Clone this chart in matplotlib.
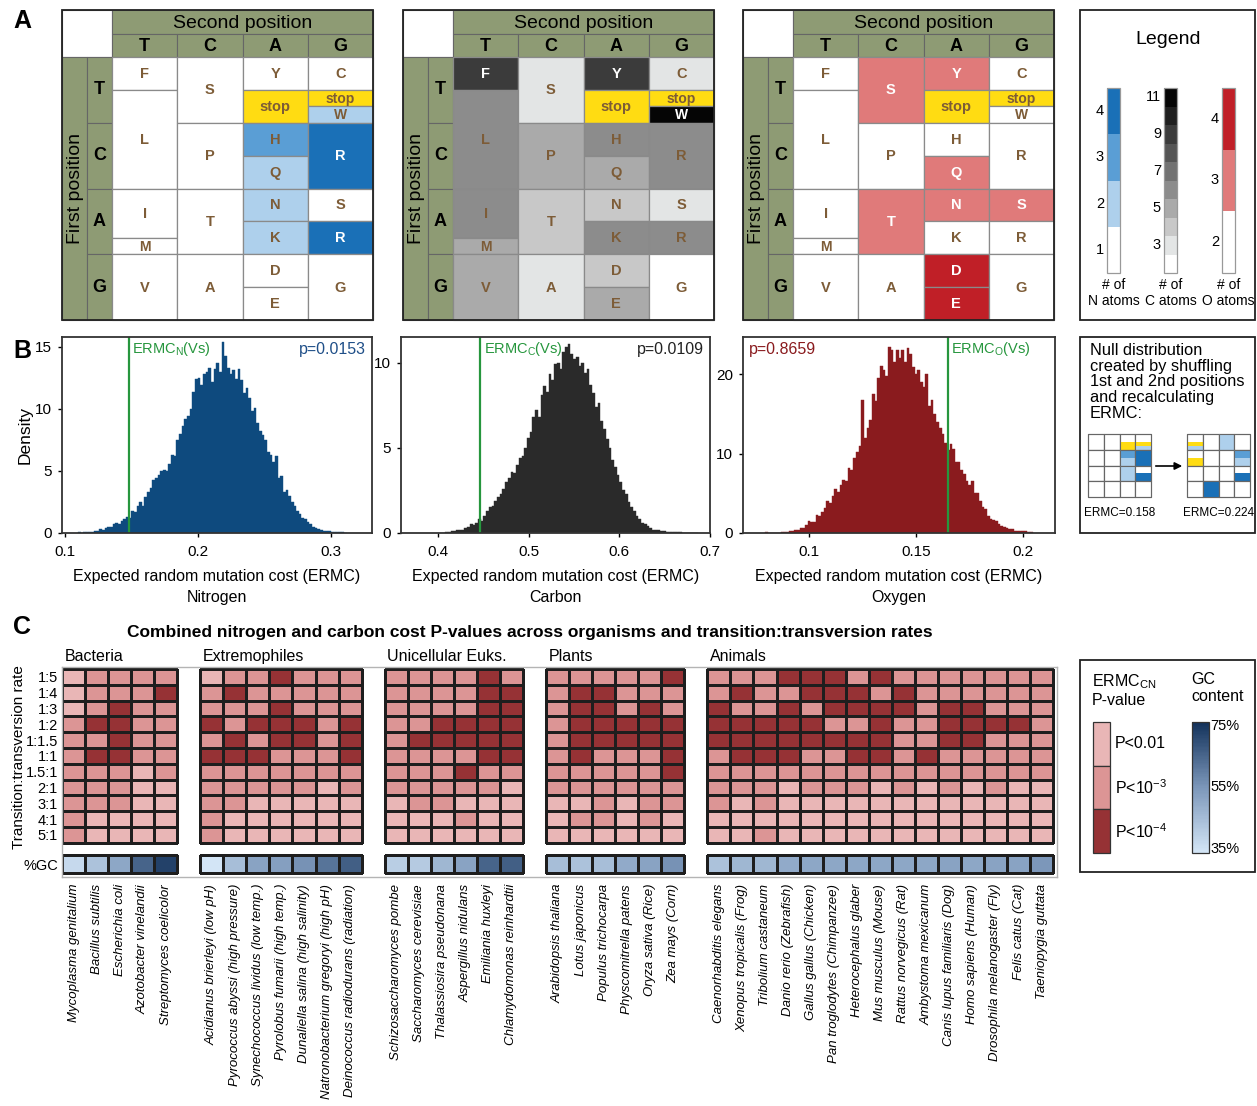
import numpy as np
import matplotlib
matplotlib.use("Agg")
import matplotlib.pyplot as plt
from matplotlib.patches import Rectangle
from matplotlib.colors import ListedColormap, LinearSegmentedColormap

plt.rcParams["font.family"] = ["Liberation Sans", "DejaVu Sans"]
plt.rcParams["mathtext.fontset"] = "custom"
plt.rcParams["mathtext.rm"] = "Liberation Sans"
plt.rcParams["mathtext.it"] = "Liberation Sans:italic"

W, H = 1257, 1106

# ── Genetic code and atom counts ─────────────────────────────────────────────
BASES = "TCAG"
GENETIC_CODE = "FFLLSSSSYY**CC*WLLLLPPPPHHQQRRRRIIIMTTTTNNKKSSRRVVVVAAAADDEEGGGG"
N_ATOMS = dict(A=1, R=4, N=2, D=1, C=1, Q=2, E=1, G=1, H=3, I=1,
               L=1, K=2, M=1, F=1, P=1, S=1, T=1, W=2, Y=1, V=1)
C_ATOMS = dict(A=3, R=6, N=4, D=4, C=3, Q=5, E=5, G=2, H=6, I=6,
               L=6, K=6, M=5, F=9, P=5, S=3, T=4, W=11, Y=9, V=5)
O_ATOMS = dict(A=2, R=2, N=3, D=4, C=2, Q=3, E=4, G=2, H=2, I=2,
               L=2, K=2, M=2, F=2, P=2, S=3, T=3, W=2, Y=3, V=2)

N_PALETTE = {1: "#ffffff", 2: "#aed0ec", 3: "#5a9ed5", 4: "#1a70b7"}
C_PALETTE = {2: "#ffffff", 3: "#e3e5e5", 4: "#c8c8c8", 5: "#aaaaaa", 6: "#8c8c8c",
             7: "#727272", 8: "#555555", 9: "#3b3b3b", 10: "#1f1f1f", 11: "#050505"}
O_PALETTE = {2: "#ffffff", 3: "#e07a7a", 4: "#c01f27"}

# block order (first, second) of the shuffled example code
SHUFFLED_BLOCKS = [["TG", "TC", "AA", "TT"],
                   ["TA", "CC", "CT", "CA"],
                   ["AT", "AC", "GA", "AG"],
                   ["GT", "CG", "GC", "GG"]]
ERMC_EXAMPLE = [0.158, 0.224]

# ── Null distributions (density per bin) ─────────────────────────────────────
N_BIN_START, N_BIN_WIDTH = 0.110, 0.002
N_HEIGHTS = [0.05, 0.0, 0.05, 0.05, 0.1, 0.1, 0.15, 0.2, 0.3, 0.25,
             0.4, 0.5, 0.5, 0.7, 0.8, 0.75, 1.0, 1.1, 1.3, 1.2,
             1.8, 1.7, 2.2, 2.5, 2.2, 2.9, 3.3, 3.6, 4.3, 4.4,
             4.7, 5.0, 5.1, 5.0, 5.6, 6.3, 6.2, 7.5, 8.0, 8.6,
             9.2, 9.4, 10.0, 11.4, 12.4, 12.5, 11.9, 12.8, 13.0, 13.3,
             12.2, 13.2, 13.7, 13.0, 15.4, 14.3, 13.3, 12.8, 13.1, 12.4,
             13.2, 12.3, 11.3, 11.7, 10.9, 9.8, 10.1, 8.9, 8.2, 7.9,
             7.5, 6.5, 6.3, 5.7, 6.2, 4.4, 4.6, 3.3, 3.5, 3.0,
             2.5, 2.2, 1.8, 1.5, 1.2, 1.1, 0.9, 0.7, 0.5, 0.4,
             0.35, 0.25, 0.2, 0.15, 0.15, 0.1, 0.1, 0.1, 0.05, 0.05, 0.02]
N_OBSERVED, N_PVALUE = 0.148, "p=0.0153"

C_BIN_START, C_BIN_WIDTH = 0.402, 0.003
C_HEIGHTS = [0.02, 0.0, 0.05, 0.05, 0.1, 0.1, 0.15, 0.2, 0.15, 0.3,
             0.35, 0.5, 0.45, 0.6, 0.8, 0.7, 1.0, 1.3, 1.5, 1.6,
             1.9, 2.1, 2.3, 2.6, 3.0, 3.2, 3.6, 3.5, 4.0, 4.4,
             4.5, 5.0, 5.6, 5.9, 6.8, 7.2, 6.8, 8.1, 8.6, 8.3,
             9.3, 9.0, 9.9, 10.0, 9.6, 10.6, 10.9, 11.1, 10.5, 10.2,
             10.3, 9.8, 10.0, 9.4, 9.6, 8.7, 8.2, 7.4, 7.6, 6.6,
             6.1, 5.5, 5.0, 4.3, 3.9, 3.4, 3.0, 2.5, 2.3, 1.8,
             1.5, 1.3, 1.0, 0.8, 0.6, 0.5, 0.4, 0.3, 0.2, 0.2,
             0.15, 0.1, 0.1, 0.08, 0.05, 0.05, 0.04, 0.03, 0.03, 0.02,
             0.02, 0.01, 0.01, 0.01, 0.01]
C_OBSERVED, C_PVALUE = 0.446, "p=0.0109"

O_BIN_START, O_BIN_WIDTH = 0.0795, 0.00125
O_HEIGHTS = [0.1, 0.0, 0.0, 0.05, 0.0, 0.05, 0.1, 0.1, 0.15, 0.3,
             0.3, 0.35, 0.4, 0.6, 0.6, 1.0, 1.5, 1.4, 1.4, 2.3,
             2.2, 2.6, 3.2, 4.0, 3.8, 4.6, 5.5, 5.2, 6.0, 6.7,
             6.5, 8.2, 8.0, 9.5, 10.2, 11.0, 16.8, 12.0, 13.2, 14.3,
             17.5, 16.6, 19.5, 21.0, 20.5, 19.8, 23.4, 23.0, 21.6, 23.0,
             22.0, 23.0, 21.5, 23.3, 22.5, 20.9, 20.0, 20.6, 19.0, 18.4,
             20.0, 16.0, 16.8, 15.0, 14.0, 13.2, 12.5, 11.4, 10.5, 11.2,
             10.6, 9.0, 8.9, 8.0, 7.4, 6.6, 6.0, 6.6, 5.0, 5.0,
             4.0, 3.3, 3.0, 2.2, 1.8, 1.7, 1.5, 1.1, 0.9, 0.8,
             0.6, 0.5, 0.5, 0.3, 0.3, 0.2, 0.3, 0.2, 0.1, 0.15]
O_OBSERVED, O_PVALUE = 0.1649, "p=0.8659"

# ── P-value levels (1: P<0.01, 2: P<1e-3, 3: P<1e-4) and GC content ──────────
RATIOS = ["1:5", "1:4", "1:3", "1:2", "1:1.5", "1:1", "1.5:1", "2:1", "3:1", "4:1", "5:1"]
GROUPS = ["Bacteria", "Extremophiles", "Unicellular Euks.", "Plants", "Animals"]

BACTERIA = ["Mycoplasma genitalium", "Bacillus subtilis", "Escherichia coli",
            "Azotobacter vinelandii", "Streptomyces coelicolor"]
BACTERIA_P = [[1, 2, 2, 2, 2], [1, 2, 2, 2, 3], [1, 2, 3, 2, 2], [2, 3, 3, 2, 2],
              [2, 2, 3, 2, 2], [2, 3, 3, 2, 2], [2, 2, 2, 1, 2], [2, 2, 2, 1, 1],
              [2, 2, 2, 1, 1], [2, 1, 1, 1, 1], [2, 1, 1, 1, 1]]
BACTERIA_GC = [38, 44, 51, 65, 72]

EXTREMOPHILES = ["Acidianus brierleyi (low pH)", "Pyrococcus abyssi (high pressure)",
                 "Synechococcus lividus (low temp.)", "Pyrolobus fumarii (high temp.)",
                 "Dunaliella salina (high salinity)", "Natronobacterium gregoryi (high pH)",
                 "Deinococcus radiodurans (radiation)"]
EXTREMOPHILES_P = [[1, 2, 2, 3, 2, 2, 2], [2, 3, 2, 2, 2, 2, 2], [2, 2, 2, 3, 2, 2, 2],
                   [3, 2, 3, 3, 3, 2, 3], [2, 3, 2, 3, 3, 2, 3], [3, 3, 3, 2, 2, 2, 3],
                   [2, 2, 2, 2, 2, 2, 2], [2, 2, 2, 2, 2, 1, 2], [2, 2, 1, 1, 1, 1, 1],
                   [2, 1, 1, 1, 1, 1, 1], [2, 1, 1, 1, 1, 1, 1]]
EXTREMOPHILES_GC = [35, 45, 52, 53, 56, 62, 66]

UNICELLULAR = ["Schizosaccharomyces pombe", "Saccharomyces cerevisiae",
               "Thalassiosira pseudonana", "Aspergillus nidulans",
               "Emiliania huxleyi", "Chlamydomonas reinhardtii"]
UNICELLULAR_P = [[2, 2, 2, 2, 3, 2], [2, 2, 2, 2, 3, 3], [2, 2, 2, 2, 3, 3],
                 [2, 2, 3, 3, 3, 3], [2, 3, 3, 3, 3, 3], [2, 2, 2, 2, 3, 3],
                 [2, 2, 2, 3, 2, 2], [2, 2, 2, 2, 2, 1], [1, 2, 2, 1, 1, 1],
                 [1, 1, 1, 2, 1, 1], [1, 1, 1, 1, 1, 1]]
UNICELLULAR_GC = [41, 42, 47, 52, 65, 66]

PLANTS = ["Arabidopsis thaliana", "Lotus japonicus", "Populus trichocarpa",
          "Physcomitrella patens", "Oryza sativa (Rice)", "Zea mays (Corn)"]
PLANTS_P = [[2, 2, 2, 2, 2, 3], [2, 3, 3, 2, 2, 2], [2, 3, 3, 2, 3, 2],
            [2, 3, 3, 3, 3, 3], [2, 3, 3, 3, 3, 3], [2, 3, 2, 2, 2, 3],
            [2, 2, 2, 2, 2, 3], [2, 2, 2, 2, 2, 2], [1, 1, 2, 1, 2, 2],
            [1, 2, 2, 1, 2, 1], [1, 1, 1, 1, 1, 1]]
PLANTS_GC = [45, 44, 45, 50, 52, 56]

ANIMALS = ["Caenorhabditis elegans", "Xenopus tropicalis (Frog)", "Tribolium castaneum",
           "Danio rerio (Zebrafish)", "Gallus gallus (Chicken)", "Pan troglodytes (Chimpanzee)",
           "Heterocephalus glaber", "Mus musculus (Mouse)", "Rattus norvegicus (Rat)",
           "Ambystoma mexicanum", "Canis lupus familiaris (Dog)", "Homo sapiens (Human)",
           "Drosophila melanogaster (Fly)", "Felis catus (Cat)", "Taeniopygia guttata"]
ANIMALS_P = [[2, 2, 2, 3, 3, 3, 2, 3, 2, 2, 2, 2, 2, 2, 2],
             [2, 3, 2, 2, 3, 3, 3, 2, 3, 2, 2, 2, 2, 2, 2],
             [3, 2, 2, 3, 2, 3, 3, 3, 3, 2, 3, 3, 2, 2, 2],
             [3, 3, 3, 3, 3, 2, 2, 3, 2, 2, 3, 3, 3, 3, 2],
             [3, 3, 3, 3, 3, 3, 3, 3, 2, 2, 3, 3, 2, 2, 2],
             [2, 3, 3, 3, 2, 2, 3, 3, 2, 3, 2, 2, 2, 2, 2],
             [2, 2, 2, 2, 2, 2, 2, 2, 2, 2, 2, 2, 2, 2, 2],
             [2, 2, 2, 1, 2, 2, 2, 1, 2, 1, 2, 1, 2, 1, 1],
             [2, 1, 2, 1, 1, 1, 1, 1, 1, 1, 1, 1, 1, 1, 1],
             [1, 1, 1, 1, 1, 1, 1, 1, 1, 1, 1, 1, 1, 1, 1],
             [1, 1, 2, 1, 1, 1, 1, 1, 1, 1, 1, 1, 1, 1, 1]]
ANIMALS_GC = [44, 47, 47, 50, 51, 51, 51, 51, 51, 51, 52, 51, 52, 52, 55]

# ── Styles ───────────────────────────────────────────────────────────────────
OLIVE = "#8e9b74"
BROWN = "#7d5c37"
STOP_YELLOW = "#ffdc12"
CELL_EDGE = "#8a8a8a"
FRAME = "#222222"
GREEN = "#26963d"
P_COLORS = ["#e9b6b6", "#dc9595", "#963235"]
GC_CMAP = LinearSegmentedColormap.from_list("gc", ["#d3e5f6", "#7c97ba", "#13325b"])

fig = plt.figure(figsize=(W / 100, H / 100), dpi=100)


def px_axes(x0, y0, x1, y1):
    return fig.add_axes([x0 / W, 1 - y1 / H, (x1 - x0) / W, (y1 - y0) / H])


# full-figure canvas in pixel units for tables, legends and labels
bg = px_axes(0, 0, W, H)
bg.set_xlim(0, W)
bg.set_ylim(H, 0)
bg.axis("off")

# ── Panel A: codon tables ────────────────────────────────────────────────────
TABLE_LEFT = [62, 403, 743]
TABLE_TOP = 10
LAB_W = 25
HDR_1, HDR_2 = 24, 23
CELL_W, CELL_H = 65.25, 65.75


def codon_table(x0, counts, palette, white_from):
    y0 = TABLE_TOP
    gx, gy = x0 + 2 * LAB_W, y0 + HDR_1 + HDR_2
    q = CELL_H / 4
    bg.add_patch(Rectangle((x0, y0), 2 * LAB_W, HDR_1 + HDR_2, fc="white", ec="#666", lw=0.8))
    bg.add_patch(Rectangle((gx, y0), 4 * CELL_W, HDR_1, fc=OLIVE, ec="#666", lw=0.8))
    bg.text(gx + 2 * CELL_W, y0 + HDR_1 / 2 + 1, "Second position",
            ha="center", va="center", fontsize=14)
    bg.add_patch(Rectangle((x0, gy), LAB_W, 4 * CELL_H, fc=OLIVE, ec="#666", lw=0.8))
    bg.text(x0 + LAB_W / 2 + 1, gy + 2 * CELL_H, "First position", rotation=90,
            ha="center", va="center", fontsize=14)
    for j, b in enumerate(BASES):
        bg.add_patch(Rectangle((gx + j * CELL_W, y0 + HDR_1), CELL_W, HDR_2,
                               fc=OLIVE, ec="#666", lw=0.8))
        bg.text(gx + (j + 0.5) * CELL_W, y0 + HDR_1 + HDR_2 / 2 + 1, b,
                ha="center", va="center", fontsize=13, fontweight="bold")
        bg.add_patch(Rectangle((x0 + LAB_W, gy + j * CELL_H), LAB_W, CELL_H,
                               fc=OLIVE, ec="#666", lw=0.8))
        bg.text(x0 + 1.5 * LAB_W, gy + (j + 0.5) * CELL_H, b,
                ha="center", va="center", fontsize=13, fontweight="bold")

    for j in range(4):
        column = [GENETIC_CODE[16 * i + 4 * j + k] for i in range(4) for k in range(4)]
        start = 0
        while start < 16:
            end = start
            while end + 1 < 16 and column[end + 1] == column[start]:
                end += 1
            aa = column[start]
            n = end - start + 1
            if aa == "*":
                fc, label, tc = STOP_YELLOW, "stop", BROWN
            else:
                fc, label = palette[counts[aa]], aa
                tc = "white" if counts[aa] >= white_from else BROWN
            bg.add_patch(Rectangle((gx + j * CELL_W, gy + start * q), CELL_W, n * q,
                                   fc=fc, ec=CELL_EDGE, lw=0.9))
            bg.text(gx + (j + 0.5) * CELL_W, gy + (start + n / 2) * q + 0.5, label,
                    ha="center", va="center", color=tc, fontweight="bold",
                    fontsize=10.5 if n > 1 else 10)
            start = end + 1

    bg.add_patch(Rectangle((x0, y0), 2 * LAB_W + 4 * CELL_W, HDR_1 + HDR_2 + 4 * CELL_H,
                           fill=False, ec=FRAME, lw=1.3))


codon_table(TABLE_LEFT[0], N_ATOMS, N_PALETTE, 4)
codon_table(TABLE_LEFT[1], C_ATOMS, C_PALETTE, 9)
codon_table(TABLE_LEFT[2], O_ATOMS, O_PALETTE, 3)

# legend of atom counts
bg.add_patch(Rectangle((1080, 10), 175, 310, fill=False, ec=FRAME, lw=1.3))
bg.text(1168, 40, "Legend", ha="center", va="center", fontsize=14)
BAR_TOP, BAR_BOT = 88, 273
for bx, palette, shown, atom in [(1107, N_PALETTE, [1, 2, 3, 4], "N"),
                                 (1164, C_PALETTE, [3, 5, 7, 9, 11], "C"),
                                 (1222, O_PALETTE, [2, 3, 4], "O")]:
    levels = sorted(palette)
    seg = (BAR_BOT - BAR_TOP) / len(levels)
    for s, lev in enumerate(levels):
        top = BAR_BOT - (s + 1) * seg
        bg.add_patch(Rectangle((bx, top), 13, seg, fc=palette[lev], ec="none"))
        if lev in shown:
            bg.text(bx - 3, top + seg / 2, str(lev), ha="right", va="center", fontsize=10.5)
    bg.add_patch(Rectangle((bx, BAR_TOP), 13, BAR_BOT - BAR_TOP, fill=False, ec="#999", lw=0.9))
    bg.text(bx + 6.5, 293, f"# of\n{atom} atoms", ha="center", va="center",
            fontsize=10, linespacing=1.15)

# ── Panel B: null distributions ──────────────────────────────────────────────


def hist_panel(rect, start, width, heights, color, xlim, ylim, yticks, xticks,
               xticklabels, observed, atom, pvalue, pcolor, p_left, name):
    ax = px_axes(*rect)
    edges = start + width * np.arange(len(heights) + 1)
    ax.bar(edges[:-1], heights, width=width, align="edge", color=color,
           edgecolor=color, linewidth=0.3)
    ax.axvline(observed, color=GREEN, lw=1.6)
    ax.text(observed + 0.012 * (xlim[1] - xlim[0]), ylim[1] * 0.985,
            f"ERMC$_\\mathrm{{{atom}}}$(Vs)", color=GREEN, fontsize=10.5,
            ha="left", va="top")
    if p_left:
        ax.text(0.02, 0.975, pvalue, transform=ax.transAxes, color=pcolor,
                fontsize=11.5, ha="left", va="top")
    else:
        ax.text(0.98, 0.975, pvalue, transform=ax.transAxes, color=pcolor,
                fontsize=11.5, ha="right", va="top")
    ax.set_xlim(*xlim)
    ax.set_ylim(*ylim)
    ax.set_yticks(yticks)
    ax.set_xticks(xticks, labels=xticklabels)
    ax.tick_params(labelsize=11, length=3, width=1, direction="out", pad=4)
    ax.tick_params(axis="x", pad=6)
    for sp in ax.spines.values():
        sp.set_linewidth(1.3)
        sp.set_color("#333")
    ax.set_xlabel(f"Expected random mutation cost (ERMC)\n{name}", fontsize=11.5,
                  linespacing=1.45, labelpad=7)
    return ax


ax_n = hist_panel((62, 337, 372, 533), N_BIN_START, N_BIN_WIDTH, N_HEIGHTS, "#0e4a7e",
                  (0.098, 0.331), (0, 15.8), [0, 5, 10, 15], [0.1, 0.2, 0.3],
                  ["0.1", "0.2", "0.3"], N_OBSERVED, "N", N_PVALUE, "#1f4f88",
                  False, "Nitrogen")
ax_n.set_ylabel("Density", fontsize=12.5, labelpad=2)
hist_panel((401, 337, 710, 533), C_BIN_START, C_BIN_WIDTH, C_HEIGHTS, "#2a2a2a",
           (0.359, 0.70), (0, 11.5), [0, 5, 10], [0.4, 0.5, 0.6, 0.7],
           ["0.4", "0.5", "0.6", "0.7"], C_OBSERVED, "C", C_PVALUE, "#222222",
           False, "Carbon")
hist_panel((743, 337, 1055, 533), O_BIN_START, O_BIN_WIDTH, O_HEIGHTS, "#8a1b1e",
           (0.0693, 0.215), (0, 24.7), [0, 10, 20], [0.1, 0.15, 0.2],
           ["0.1", "0.15", "0.2"], O_OBSERVED, "O", O_PVALUE, "#8a1b1e",
           True, "Oxygen")

# shuffling illustration
bg.add_patch(Rectangle((1080, 337), 175, 196, fill=False, ec=FRAME, lw=1.3))
bg.text(1090, 343, "Null distribution\ncreated by shuffling\n1st and 2nd positions\n"
        "and recalculating\nERMC:", ha="left", va="top", fontsize=11.8, linespacing=1.06)

MINI = 15.75


def mini_code(x0, y0, blocks):
    for r in range(4):
        for c in range(4):
            first, second = BASES.index(blocks[r][c][0]), BASES.index(blocks[r][c][1])
            cx, cy = x0 + c * MINI, y0 + r * MINI
            bg.add_patch(Rectangle((cx, cy), MINI, MINI, fc="white", ec="#777", lw=0.8))
            for k in range(4):
                aa = GENETIC_CODE[16 * first + 4 * second + k]
                fc = STOP_YELLOW if aa == "*" else N_PALETTE[N_ATOMS[aa]]
                if fc != "#ffffff":
                    bg.add_patch(Rectangle((cx, cy + k * MINI / 4), MINI, MINI / 4,
                                           fc=fc, ec="none"))
            bg.add_patch(Rectangle((cx, cy), MINI, MINI, fill=False, ec="#666", lw=0.8))


standard_blocks = [[a + b for b in BASES] for a in BASES]
mini_code(1088, 434, standard_blocks)
mini_code(1187, 434, SHUFFLED_BLOCKS)
bg.annotate("", xy=(1185, 466), xytext=(1153, 466),
            arrowprops=dict(arrowstyle="-|>", color="black", lw=1.2, mutation_scale=11))
bg.text(1120, 513, f"ERMC={ERMC_EXAMPLE[0]:.3f}", ha="center", va="center", fontsize=8.5)
bg.text(1219, 513, f"ERMC={ERMC_EXAMPLE[1]:.3f}", ha="center", va="center", fontsize=8.5)

# ── Panel C: heatmap of P-values ─────────────────────────────────────────────
bg.text(530, 632, "Combined nitrogen and carbon cost P-values across organisms "
        "and transition:transversion rates", ha="center", va="center",
        fontsize=12.5, fontweight="bold")

hm = px_axes(62, 667, 1057, 877)
GC_ROW = (11.77, 12.91)
groups = [(GROUPS[0], BACTERIA, BACTERIA_P, BACTERIA_GC),
          (GROUPS[1], EXTREMOPHILES, EXTREMOPHILES_P, EXTREMOPHILES_GC),
          (GROUPS[2], UNICELLULAR, UNICELLULAR_P, UNICELLULAR_GC),
          (GROUPS[3], PLANTS, PLANTS_P, PLANTS_GC),
          (GROUPS[4], ANIMALS, ANIMALS_P, ANIMALS_GC)]
p_cmap = ListedColormap(P_COLORS)
centers, names = [], []
offset = 0
for gname, species, pvals, gc in groups:
    n = len(species)
    xe = offset + np.arange(n + 1)
    hm.pcolormesh(xe, np.arange(len(RATIOS) + 1), np.array(pvals), cmap=p_cmap,
                  vmin=0.5, vmax=3.5, edgecolors="#1e1e1e", linewidth=0.8)
    hm.pcolormesh(xe, GC_ROW, np.array([gc]), cmap=GC_CMAP, vmin=35, vmax=75,
                  edgecolors="#1e1e1e", linewidth=0.8)
    hm.text(offset + 0.12, -0.35, gname, ha="left", va="bottom", fontsize=11.5)
    centers.extend(offset + 0.5 + np.arange(n))
    names.extend(species)
    offset += n + 1

hm.set_xlim(0, offset - 1 + 0.17)
hm.set_ylim(13.16, -0.13)
hm.set_xticks(centers, labels=names, rotation=90, fontstyle="italic", fontsize=9.5)
hm.set_yticks(list(np.arange(len(RATIOS)) + 0.5) + [sum(GC_ROW) / 2],
              labels=RATIOS + ["%GC"], fontsize=10.5)
hm.tick_params(length=0, pad=3)
hm.tick_params(axis="x", pad=5)
for sp in hm.spines.values():
    sp.set_color("#b4b4b4")
    sp.set_linewidth(1.0)
bg.text(19, 757, "Transition:transversion rate", rotation=90, ha="center",
        va="center", fontsize=11)

# legend for P-value levels and GC content
bg.add_patch(Rectangle((1080, 660), 175, 212, fill=False, ec=FRAME, lw=1.3))
bg.text(1092, 672, "ERMC$_\\mathrm{CN}$\nP-value", ha="left", va="top", fontsize=11.5,
        linespacing=1.2)
bg.text(1191, 672, "GC\ncontent", ha="left", va="top", fontsize=11.5, linespacing=1.2)
P_LABELS = ["P<0.01", "P<10$^{-3}$", "P<10$^{-4}$"]
seg = (853 - 722) / 3
for s, (col, lab) in enumerate(zip(P_COLORS, P_LABELS)):
    bg.add_patch(Rectangle((1093, 722 + s * seg), 17, seg, fc=col, ec="#333", lw=0.9))
    bg.text(1115, 722 + (s + 0.5) * seg, lab, ha="left", va="center", fontsize=11.5)
gc_levels = np.linspace(75, 35, 100).reshape(-1, 1)
bg.pcolormesh([1192, 1209], np.linspace(722, 853, 101), gc_levels, cmap=GC_CMAP,
              vmin=35, vmax=75)
bg.add_patch(Rectangle((1192, 722), 17, 131, fill=False, ec="#333", lw=0.9))
for val, yy in [(75, 726), (55, 787), (35, 849)]:
    bg.text(1210, yy, f"{val}%", ha="left", va="center", fontsize=10.5)

# panel letters
for letter, (lx, ly) in zip("ABC", [(22, 21), (22, 351), (22, 627)]):
    bg.text(lx, ly, letter, ha="center", va="center", fontsize=18, fontweight="bold")

fig.savefig("out.png", dpi=100, facecolor="white")
